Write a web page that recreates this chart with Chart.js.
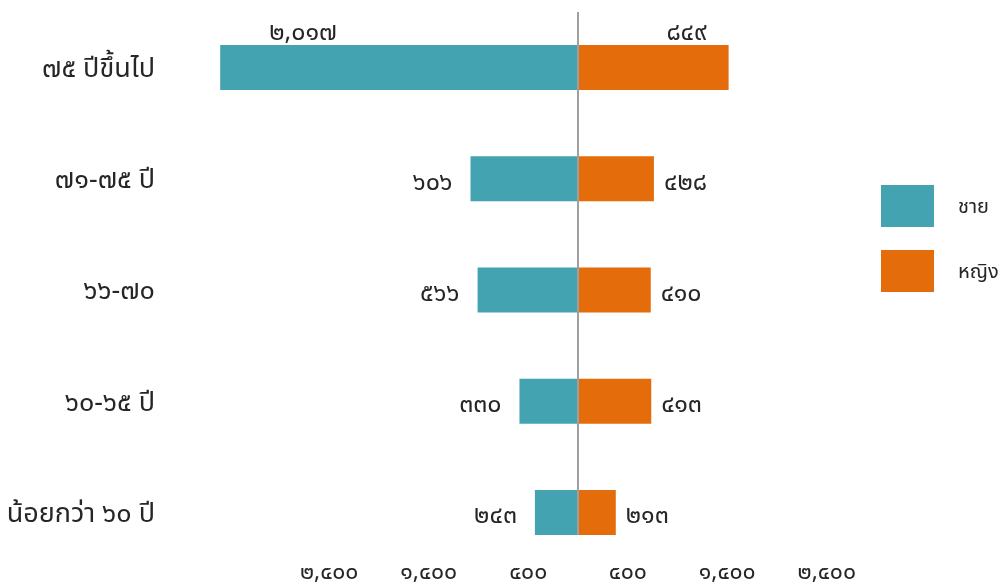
<!DOCTYPE html>
<html lang="th">
<head>
  <meta charset="UTF-8">
  <title>ชาย / หญิง ตามช่วงอายุ</title>
  <style>
    body { margin: 0; background: #fff; }
    #wrap { width: 1000px; height: 584px; }
  </style>
</head>
<body>
<div id="wrap">
  <canvas id="chart"></canvas>
</div>

<script src="https://cdn.jsdelivr.net/npm/chart.js"></script>

<script>
  const categories = ['๗๕ ปีขึ้นไป', '๗๑-๗๕ ปี', '๖๖-๗๐', '๖๐-๖๕ ปี', 'น้อยกว่า ๖๐ ปี'];
  const male = [2017, 606, 566, 330, 243];
  const female = [849, 428, 410, 413, 213];
  const seriesNames = ['ชาย', 'หญิง'];
  const axisTicks = [-2500, -1500, -500, 500, 1500, 2500];

  const colors = ['#43a3b1', '#e46c0a'];
  const fontFamily = "'Noto Sans Thai', 'Noto Sans', sans-serif";
  const textColor = '#262626';

  const thaiDigits = '๐๑๒๓๔๕๖๗๘๙';
  const toThai = (n) => Math.abs(n).toLocaleString('en-US').replace(/\d/g, d => thaiDigits[d]);

  // line at zero, from top of plot down to the lowest bar
  const zeroLine = {
    id: 'zeroLine',
    afterDatasetsDraw(chart) {
      const {ctx, chartArea} = chart;
      const x = chart.scales.x.getPixelForValue(0);
      const bars = chart.getDatasetMeta(0).data;
      const last = bars[bars.length - 1];
      ctx.save();
      ctx.strokeStyle = '#a0a0a0';
      ctx.lineWidth = 2;
      ctx.beginPath();
      ctx.moveTo(x, chartArea.top);
      ctx.lineTo(x, last.y + last.height / 2);
      ctx.stroke();
      ctx.restore();
    }
  };

  const valueLabels = {
    id: 'valueLabels',
    afterDatasetsDraw(chart) {
      const {ctx} = chart;
      ctx.save();
      ctx.font = `25px ${fontFamily}`;
      ctx.fillStyle = textColor;
      chart.data.datasets.forEach((ds, di) => {
        const left = di === 0;
        chart.getDatasetMeta(di).data.forEach((bar, i) => {
          const text = toThai(ds.data[i]);
          if (i === 0) {
            // first row: label sits above the bar
            ctx.textBaseline = 'bottom';
            ctx.textAlign = left ? 'left' : 'right';
            ctx.fillText(text, left ? bar.x + 49 : bar.x - 22, bar.y - bar.height / 2 + 2);
          } else {
            ctx.textBaseline = 'middle';
            ctx.textAlign = left ? 'right' : 'left';
            ctx.fillText(text, left ? bar.x - 18 : bar.x + 10, bar.y + 6);
          }
        });
      });
      ctx.restore();
    }
  };

  const sideLegend = {
    id: 'sideLegend',
    afterDraw(chart) {
      const {ctx} = chart;
      ctx.save();
      ctx.font = `20px ${fontFamily}`;
      ctx.textBaseline = 'middle';
      ctx.textAlign = 'left';
      chart.data.datasets.forEach((ds, i) => {
        const top = 185 + i * 65;
        ctx.fillStyle = ds.backgroundColor;
        ctx.fillRect(881, top, 53, 42);
        ctx.fillStyle = textColor;
        ctx.fillText(ds.label, 958, top + 24);
      });
      ctx.restore();
    }
  };

  new Chart(document.getElementById('chart'), {
    type: 'bar',
    data: {
      labels: categories,
      datasets: [
        { label: seriesNames[0], data: male.map(v => -v), backgroundColor: colors[0] },
        { label: seriesNames[1], data: female, backgroundColor: colors[1] }
      ]
    },
    options: {
      indexAxis: 'y',
      responsive: true,
      maintainAspectRatio: false,
      animation: false,
      barPercentage: 0.5,
      categoryPercentage: 0.81,
      layout: { padding: { top: 12, right: 14, left: 0, bottom: 0 } },
      plugins: {
        legend: { display: false },
        tooltip: { enabled: false }
      },
      scales: {
        x: {
          display: false,
          stacked: true,
          min: -2300,
          max: 2300
        },
        x2: {
          type: 'linear',
          position: 'bottom',
          min: -4100,
          max: 4100,
          grid: { display: false, drawTicks: false },
          border: { display: false },
          afterBuildTicks(axis) {
            axis.ticks = axisTicks.map(v => ({ value: v }));
          },
          afterFit(scale) { scale.height = 16; },
          ticks: {
            autoSkip: false,
            maxRotation: 0,
            padding: -7,
            color: textColor,
            font: { family: fontFamily, size: 23 },
            callback: (v) => toThai(v)
          }
        },
        y: {
          stacked: true,
          grid: { display: false },
          border: { display: false },
          afterFit(scale) {
            scale.width = 170;
            scale.paddingTop = 0;
            scale.paddingBottom = 0;
          },
          ticks: {
            padding: 7,
            labelOffset: 4,
            color: textColor,
            font: { family: fontFamily, size: 27 }
          }
        }
      }
    },
    plugins: [zeroLine, valueLabels, sideLegend]
  });
</script>
</body>
</html>
